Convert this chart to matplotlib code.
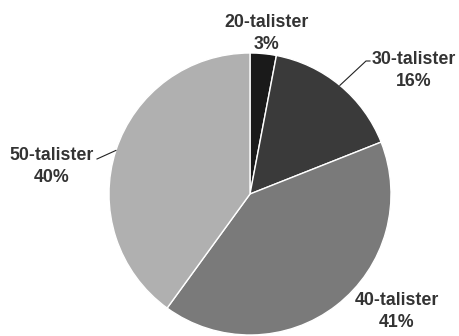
import numpy as np
import matplotlib.pyplot as plt

labels = ["20-talister", "30-talister", "40-talister", "50-talister"]
shares = [3, 16, 41, 40]
colors = ["#1a1a1a", "#3a3a3a", "#7a7a7a", "#b0b0b0"]

# label baseline positions (pixels, first line) and leader end points
text_pos = [(267, 27), (414, 64), (397, 305), (52, 160)]
leader_end = [None, [(366, 61), (370, 61)], None, [(97, 159)]]

cx, cy, r = 250, 194, 141

fig = plt.figure(figsize=(4.59, 3.36), dpi=100)
ax = fig.add_axes([0, 0, 1, 1])
# y axis is flipped below, so start at -90 and go counterclockwise in data
ax.pie(shares, colors=colors, startangle=-90, counterclock=True,
       center=(cx, cy), radius=r,
       wedgeprops=dict(edgecolor="white", linewidth=1))
ax.set_xlim(0, 459)
ax.set_ylim(336, 0)
ax.set_aspect("equal")
ax.axis("off")

total = sum(shares)
start = 0
for lab, val, pos, pts in zip(labels, shares, text_pos, leader_end):
    mid = start + val / 2
    start += val
    ang = np.deg2rad(90 - 360 * mid / total)
    if pts is not None:
        ex, ey = cx + r * np.cos(ang), cy - r * np.sin(ang)
        ax.plot([ex] + [p[0] for p in pts], [ey] + [p[1] for p in pts],
                color="#222222", lw=0.8)
    for k, s in enumerate([lab, f"{val}%"]):
        ax.text(pos[0], pos[1] + 22 * k, s, ha="center", va="baseline",
                fontsize=12.8, fontweight="bold", color="#333333",
                family="Liberation Sans")

fig.savefig("out.png", dpi=100)
